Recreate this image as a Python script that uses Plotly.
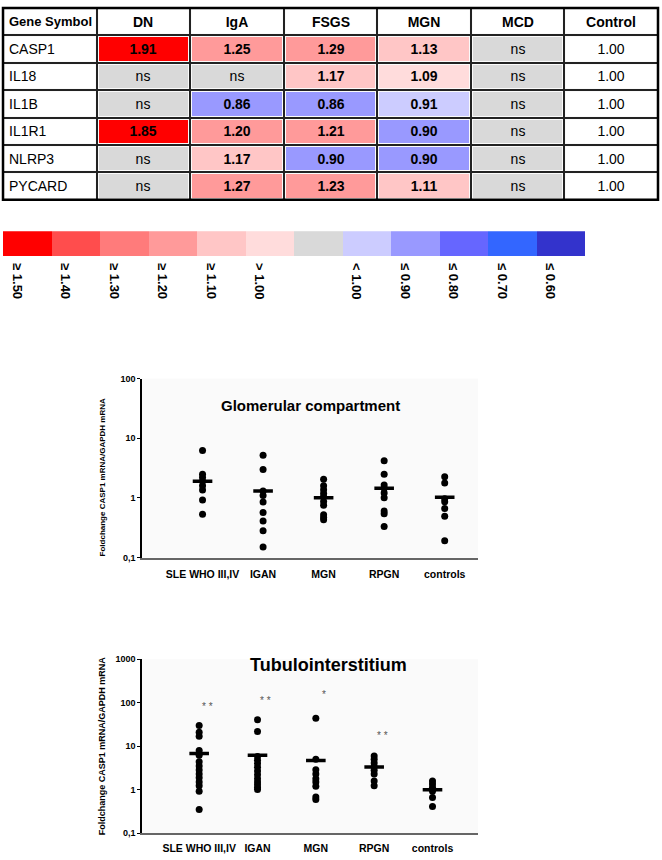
import numpy as np
import plotly.graph_objects as go

# table data (fold change vs control, None = not significant)
genes = ['CASP1', 'IL18', 'IL1B', 'IL1R1', 'NLRP3', 'PYCARD']
diseases = ['DN', 'IgA', 'FSGS', 'MGN', 'MCD']
dn = [1.91, None, None, 1.85, None, None]
iga = [1.25, None, 0.86, 1.20, 1.17, 1.27]
fsgs = [1.29, 1.17, 0.86, 1.21, 0.90, 1.23]
mgn = [1.13, 1.09, 0.91, 0.90, 0.90, 1.11]
mcd = [None, None, None, None, None, None]
control = [1.00, 1.00, 1.00, 1.00, 1.00, 1.00]

# colour key
key_labels = ['≥ 1.50', '≥ 1.40', '≥ 1.30', '≥ 1.20', '≥ 1.10', '> 1.00', '',
              '< 1.00', '≤ 0.90', '≤ 0.80', '≤ 0.70', '≤ 0.60']
key_colors = ['#ff0000', '#ff4d4d', '#ff7b7b', '#ff9a9a', '#ffc6c6', '#ffdcdc', '#d9d9d9',
              '#ccccff', '#9999ff', '#6666ff', '#3366ff', '#3333cc']

# scatter data
groups = ['SLE WHO III,IV', 'IGAN', 'MGN', 'RPGN', 'controls']
glom_vals = [
    [6.2, 2.5, 2.2, 1.9, 1.6, 1.35, 0.92, 0.53],
    [5.2, 3.0, 1.3, 1.1, 0.85, 0.57, 0.41, 0.28, 0.15],
    [2.05, 1.6, 1.37, 1.18, 1.04, 0.87, 0.75, 0.52, 0.47, 0.43],
    [4.2, 2.5, 1.64, 1.45, 1.21, 1.0, 0.6, 0.54, 0.33],
    [2.25, 1.78, 0.97, 0.86, 0.66, 0.49, 0.19],
]
glom_bar = [1.9, 1.3, 1.0, 1.45, 1.02]

tub_vals = [
    [30.0, 21.0, 17.0, 8.0, 6.2, 4.4, 3.5, 2.85, 2.3, 1.9, 1.5, 1.23, 0.92, 0.35],
    [41.0, 22.0, 5.8, 4.8, 4.0, 3.3, 2.7, 2.2, 1.8, 1.5, 1.3, 1.12, 1.02],
    [44.0, 5.0, 2.9, 2.3, 1.8, 1.5, 1.2, 0.68, 0.6],
    [6.0, 5.0, 4.1, 3.4, 2.8, 2.3, 1.6, 1.23],
    [1.6, 1.35, 1.15, 0.93, 0.66, 0.41],
]
tub_bar = [6.8, 6.2, 4.7, 3.35, 1.0]
tub_sig = ['* *', '* *', '*', '* *', '']
tub_sig_y = [81, 111, 156, 18, None]

W, H = 662, 860
WHITE = len(key_colors)  # index used for uncoloured cells


def px_x(v):
    return v / W


def px_y(v):
    return 1 - v / H


def bin_index(v):
    if v is None:
        return 6
    if v >= 1.5:
        return 0
    if v >= 1.4:
        return 1
    if v >= 1.3:
        return 2
    if v >= 1.2:
        return 3
    if v >= 1.1:
        return 4
    if v > 1.0:
        return 5
    if v <= 0.6:
        return 11
    if v <= 0.7:
        return 10
    if v <= 0.8:
        return 9
    if v <= 0.9:
        return 8
    return 7


def cell_text(v):
    return 'ns' if v is None else '<b>%.2f</b>' % v


table_cols = ['Gene Symbol'] + diseases + ['Control']
table_rows = ['header'] + genes
cols = [dn, iga, fsgs, mgn, mcd]

z = [[WHITE] * len(table_cols)]
text = [[''] + ['<b>%s</b>' % c for c in table_cols[1:]]]
for i, g in enumerate(genes):
    z.append([WHITE] + [bin_index(c[i]) for c in cols] + [WHITE])
    text.append([''] + [cell_text(c[i]) for c in cols] + ['%.2f' % control[i]])

# stepped colour scale: one band per colour index
all_colors = key_colors + ['#ffffff']
n = len(all_colors)
cscale = []
for k, c in enumerate(all_colors):
    cscale.append([k / n, c])
    cscale.append([(k + 1) / n, c])

arial = 'Liberation Sans, Arial, sans-serif'

fig = go.Figure()

# table drawn as a heatmap
fig.add_trace(go.Heatmap(x=table_cols, y=table_rows, z=z, text=text, texttemplate='%{text}',
                         textfont=dict(family=arial, size=14, color='black'),
                         colorscale=cscale, zmin=-0.5, zmax=n - 0.5, showscale=False,
                         xgap=4, ygap=4, xaxis='x4', yaxis='y4', hoverinfo='skip'))

# colour key bar
fig.add_trace(go.Bar(x=list(range(len(key_colors))), y=[1] * len(key_colors), width=1,
                     marker=dict(color=key_colors, line=dict(width=0)),
                     xaxis='x3', yaxis='y3', showlegend=False, hoverinfo='skip'))

# glomerular and tubulointerstitium scatter plots
for xa, ya, vals, bars in [('x', 'y', glom_vals, glom_bar), ('x2', 'y2', tub_vals, tub_bar)]:
    for g, v in zip(groups, vals):
        fig.add_trace(go.Scatter(x=[g] * len(v), y=v, mode='markers', xaxis=xa, yaxis=ya,
                                 marker=dict(color='black', size=7), showlegend=False))
    fig.add_trace(go.Scatter(x=groups, y=bars, mode='markers', xaxis=xa, yaxis=ya,
                             marker=dict(symbol='line-ew', size=14,
                                         line=dict(color='black', width=3.5)),
                             showlegend=False))

xcommon = dict(type='category', categoryorder='array', categoryarray=groups,
               showline=True, linecolor='#666', linewidth=2, ticks='', showgrid=False,
               zeroline=False, tickfont=dict(family=arial, size=10.5, color='black', weight='bold'))
ycommon = dict(type='log', showline=True, linecolor='black', linewidth=1.5, ticks='outside',
               ticklen=3, tickcolor='black', showgrid=False, zeroline=False,
               tickfont=dict(family=arial, size=9, color='black', weight='bold'))

annotations = [
    dict(text='<b>Glomerular compartment</b>', x=px_x(310), y=px_y(405),
         font=dict(family=arial, size=15, color='black')),
    dict(text='<b>Tubulointerstitium</b>', x=px_x(328), y=px_y(668),
         font=dict(family=arial, size=18, color='black')),
    dict(text='<b>Foldchange CASP1 mRNA/GAPDH mRNA</b>', x=px_x(102), y=px_y(478),
         textangle=-90, font=dict(family=arial, size=8, color='black')),
    dict(text='<b>Foldchange CASP1 mRNA/GAPDH mRNA</b>', x=px_x(102), y=px_y(750),
         textangle=-90, font=dict(family=arial, size=9, color='black')),
]
for ann in annotations:
    ann.update(xref='paper', yref='paper', xanchor='center', yanchor='middle', showarrow=False)

# gene names, left aligned in the first table column
for r, label in zip(table_rows, ['<b>Gene Symbol</b>'] + genes):
    annotations.append(dict(text=label, x='Gene Symbol', y=r, xref='x4', yref='y4',
                            xanchor='left', xshift=-43, showarrow=False,
                            font=dict(family=arial, size=13 if r == 'header' else 14,
                                      color='black')))

for g, s, sy in zip(groups, tub_sig, tub_sig_y):
    if s:
        annotations.append(dict(text=s, x=g, y=np.log10(sy), xref='x2', yref='y2',
                                xshift=8, showarrow=False,
                                font=dict(family=arial, size=10, color='#555')))

key_ticks = [i - 0.21 for i, t in enumerate(key_labels) if t]

fig.update_layout(
    width=W, height=H, margin=dict(l=0, r=0, t=0, b=0),
    paper_bgcolor='white', plot_bgcolor='#fafafa', bargap=0,
    xaxis=dict(xcommon, domain=[px_x(142), px_x(478)], anchor='y', range=[-1, 4.55],
               ticklabelstandoff=6),
    yaxis=dict(ycommon, domain=[px_y(559), px_y(378)], anchor='x', range=[-1, 2],
               tickvals=[0.1, 1, 10, 100], ticktext=['0,1', '1', '10', '100']),
    xaxis2=dict(xcommon, domain=[px_x(142), px_x(478)], anchor='y2', range=[-0.98, 4.78],
                ticklabelstandoff=4),
    yaxis2=dict(ycommon, domain=[px_y(838), px_y(662)], anchor='x2', range=[-1, 3],
                tickvals=[0.1, 1, 10, 100, 1000], ticktext=['0,1', '1', '10', '100', '1000']),
    xaxis3=dict(domain=[px_x(3), px_x(585)], anchor='y3', range=[-0.5, 11.5],
                showline=False, showgrid=False, zeroline=False, ticks='',
                tickvals=key_ticks, ticktext=[t for t in key_labels if t], tickangle=90,
                ticklabelstandoff=6,
                tickfont=dict(family=arial, size=13, color='black', weight='bold')),
    yaxis3=dict(domain=[px_y(254), px_y(229)], anchor='x3', range=[0, 1], visible=False),
    xaxis4=dict(domain=[px_x(3), px_x(658)], anchor='y4', type='category',
                categoryorder='array', categoryarray=table_cols, tickson='boundaries',
                showgrid=True, gridcolor='#222', gridwidth=1.5, showticklabels=False,
                ticks='', zeroline=False, showline=False),
    yaxis4=dict(domain=[px_y(197), px_y(3)], anchor='x4', type='category',
                categoryorder='array', categoryarray=table_rows[::-1], tickson='boundaries',
                showgrid=True, gridcolor='#222', gridwidth=1.5, showticklabels=False,
                ticks='', zeroline=False, showline=False),
    annotations=annotations,
    shapes=[dict(type='rect', xref='paper', yref='paper', x0=px_x(3), x1=px_x(658),
                 y0=px_y(197), y1=px_y(3), line=dict(color='black', width=2.5))],
)

fig.write_html('out.html', config={'displayModeBar': False},
               post_script="document.body.style.margin='0';")
